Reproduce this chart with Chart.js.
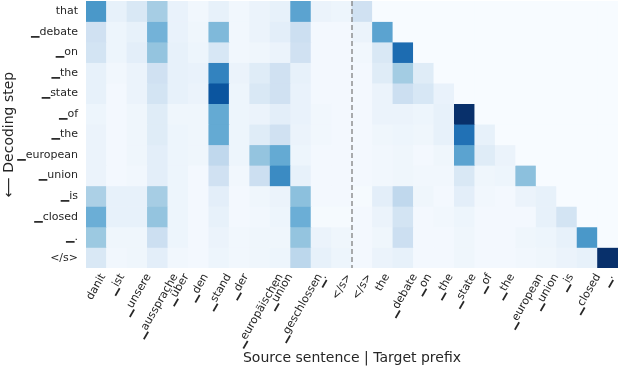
<!DOCTYPE html>
<html>
<head>
<meta charset="utf-8">
<script src="https://cdn.jsdelivr.net/npm/chart.js@4/dist/chart.umd.min.js"></script>
<style>
html, body { margin: 0; padding: 0; background: #fff; }
</style>
</head>
<body>
<canvas id="attn" width="618" height="368"></canvas>
<script>
// tokens
const rowLabels = ['that', '▁debate', '▁on', '▁the', '▁state', '▁of', '▁the', '▁european', '▁union', '▁is', '▁closed', '▁.', '</s>'];
const sourceTokens = ['danit', '▁ist', '▁unsere', '▁aussprache', '▁über', '▁den', '▁stand', '▁der', '▁europäischen', '▁union', '▁geschlossen', '▁.', '</s>'];
const targetTokens = ['</s>', 'the', '▁debate', '▁on', '▁the', '▁state', '▁of', '▁the', '▁european', '▁union', '▁is', '▁closed', '▁.'];

// attention to the source sentence, one row per decoding step
const sourceAttn = [
    [0.60, 0.08, 0.15, 0.35, 0.07, 0.03, 0.08, 0.03, 0.06, 0.08, 0.55, 0.06, 0.05],
    [0.20, 0.05, 0.08, 0.48, 0.07, 0.04, 0.45, 0.03, 0.06, 0.10, 0.22, 0.02, 0.02],
    [0.18, 0.05, 0.10, 0.40, 0.08, 0.05, 0.16, 0.03, 0.04, 0.06, 0.20, 0.02, 0.02],
    [0.08, 0.03, 0.06, 0.20, 0.08, 0.07, 0.68, 0.06, 0.12, 0.20, 0.08, 0.02, 0.02],
    [0.08, 0.02, 0.06, 0.18, 0.08, 0.06, 0.86, 0.05, 0.15, 0.20, 0.07, 0.02, 0.02],
    [0.05, 0.02, 0.04, 0.12, 0.04, 0.04, 0.52, 0.05, 0.06, 0.10, 0.07, 0.03, 0.02],
    [0.06, 0.02, 0.04, 0.12, 0.05, 0.04, 0.52, 0.05, 0.12, 0.20, 0.06, 0.03, 0.02],
    [0.06, 0.02, 0.04, 0.10, 0.05, 0.04, 0.27, 0.05, 0.40, 0.52, 0.05, 0.02, 0.02],
    [0.06, 0.02, 0.03, 0.10, 0.05, 0.02, 0.20, 0.03, 0.22, 0.65, 0.08, 0.02, 0.02],
    [0.33, 0.08, 0.08, 0.35, 0.05, 0.02, 0.10, 0.02, 0.04, 0.06, 0.42, 0.02, 0.02],
    [0.50, 0.08, 0.08, 0.40, 0.05, 0.02, 0.08, 0.02, 0.03, 0.05, 0.50, 0.01, 0.01],
    [0.38, 0.04, 0.04, 0.22, 0.05, 0.02, 0.06, 0.03, 0.04, 0.04, 0.40, 0.06, 0.04],
    [0.15, 0.03, 0.04, 0.10, 0.03, 0.02, 0.05, 0.03, 0.04, 0.05, 0.28, 0.08, 0.05],
];

// attention to the target prefix (masked part is 0)
const targetAttn = [
    [0.20, 0, 0, 0, 0, 0, 0, 0, 0, 0, 0, 0, 0],
    [0.06, 0.55, 0, 0, 0, 0, 0, 0, 0, 0, 0, 0, 0],
    [0.03, 0.15, 0.77, 0, 0, 0, 0, 0, 0, 0, 0, 0, 0],
    [0.02, 0.12, 0.36, 0.12, 0, 0, 0, 0, 0, 0, 0, 0, 0],
    [0.02, 0.06, 0.22, 0.16, 0.07, 0, 0, 0, 0, 0, 0, 0, 0],
    [0.02, 0.06, 0.06, 0.05, 0.08, 1.00, 0, 0, 0, 0, 0, 0, 0],
    [0.02, 0.04, 0.05, 0.04, 0.08, 0.75, 0.08, 0, 0, 0, 0, 0, 0],
    [0.02, 0.03, 0.04, 0.02, 0.04, 0.55, 0.12, 0.06, 0, 0, 0, 0, 0],
    [0.02, 0.03, 0.04, 0.03, 0.03, 0.15, 0.04, 0.05, 0.42, 0, 0, 0, 0],
    [0.01, 0.10, 0.27, 0.04, 0.02, 0.10, 0.03, 0.02, 0.06, 0.08, 0, 0, 0],
    [0.02, 0.06, 0.18, 0.02, 0.03, 0.05, 0.02, 0.02, 0.02, 0.08, 0.18, 0, 0],
    [0.02, 0.04, 0.22, 0.02, 0.02, 0.04, 0.02, 0.02, 0.04, 0.05, 0.08, 0.60, 0],
    [0.02, 0.06, 0.08, 0.02, 0.02, 0.04, 0.02, 0.02, 0.03, 0.04, 0.06, 0.08, 1.00],
];

const columns = sourceTokens.concat(targetTokens);

// matplotlib "Blues"
const bluesStops = ['#f7fbff', '#deebf7', '#c6dbef', '#9ecae1', '#6baed6', '#4292c6', '#2171b5', '#08519c', '#08306b'];

function hexToRgb(h) {
    return [parseInt(h.slice(1, 3), 16), parseInt(h.slice(3, 5), 16), parseInt(h.slice(5, 7), 16)];
}

function blueFor(v) {
    const t = Math.max(0, Math.min(1, v)) * (bluesStops.length - 1);
    const i = Math.min(bluesStops.length - 2, Math.floor(t));
    const f = t - i;
    const a = hexToRgb(bluesStops[i]);
    const b = hexToRgb(bluesStops[i + 1]);
    const c = a.map((x, k) => Math.round(x + (b[k] - x) * f));
    return 'rgb(' + c.join(',') + ')';
}

const datasets = rowLabels.map((label, r) => ({
    label: label,
    data: columns.map(() => [r, r + 1]),
    backgroundColor: sourceAttn[r].concat(targetAttn[r]).map(blueFor),
    borderWidth: 0,
    grouped: false,
    barPercentage: 1,
    categoryPercentage: 1,
}));

const textColor = '#262626';
const fontFamily = '"DejaVu Sans", sans-serif';

// dashed line between source and target part
const divider = {
    id: 'divider',
    afterDatasetsDraw(chart) {
        const {ctx, chartArea, scales: {x}} = chart;
        const n = sourceTokens.length;
        const px = (x.getPixelForValue(n - 1) + x.getPixelForValue(n)) / 2;
        ctx.save();
        ctx.strokeStyle = '#808080';
        ctx.lineWidth = 1.3;
        ctx.setLineDash([5, 3]);
        ctx.beginPath();
        ctx.moveTo(px, chartArea.top);
        ctx.lineTo(px, chartArea.bottom);
        ctx.stroke();
        ctx.restore();
    }
};

// rotated x labels, centred under their column (like matplotlib ha='center')
const xLabels = {
    id: 'xLabels',
    afterDraw(chart) {
        const {ctx, chartArea, scales: {x}} = chart;
        const size = 11;
        const ang = Math.PI / 3;
        ctx.save();
        ctx.font = size + 'px ' + fontFamily;
        ctx.fillStyle = textColor;
        ctx.textAlign = 'right';
        ctx.textBaseline = 'middle';
        const top = chartArea.bottom + 4;
        columns.forEach((label, i) => {
            const w = ctx.measureText(label).width;
            const tx = x.getPixelForTick(i) + w * Math.cos(ang) / 2;
            const ty = top + size * 0.5 * Math.cos(ang);
            ctx.setTransform(1, 0, 0, 1, tx, ty);
            ctx.rotate(-ang);
            ctx.fillText(label, 0, 0);
        });
        ctx.restore();
    }
};

Chart.defaults.font.family = fontFamily;
Chart.defaults.color = textColor;

new Chart(document.getElementById('attn'), {
    type: 'bar',
    data: {
        labels: columns,
        datasets: datasets,
    },
    options: {
        responsive: false,
        animation: false,
        layout: { padding: { top: 1, right: 0, left: 0, bottom: 0 } },
        plugins: {
            legend: { display: false },
            tooltip: { enabled: false },
        },
        scales: {
            x: {
                type: 'category',
                grid: { display: false, drawTicks: false },
                border: { display: false },
                ticks: { display: false },
                title: {
                    display: true,
                    text: 'Source sentence | Target prefix',
                    font: { size: 14 },
                    padding: { top: 0, bottom: 1 },
                },
                afterFit(scale) {
                    scale.height = 100;
                    scale.paddingLeft = 0;
                    scale.paddingRight = 0;
                },
            },
            y: {
                type: 'linear',
                min: 0,
                max: rowLabels.length,
                reverse: true,
                grid: { display: false, drawTicks: false },
                border: { display: false },
                afterBuildTicks(scale) {
                    scale.ticks = rowLabels.map((_, i) => ({ value: i + 0.5 }));
                },
                ticks: {
                    padding: 8,
                    font: { size: 11 },
                    callback: (value, index) => rowLabels[index],
                },
                title: {
                    display: true,
                    text: '⟵ Decoding step',
                    font: { size: 14 },
                    padding: { top: 1, bottom: 0 },
                },
                afterFit(scale) {
                    scale.width = 86;
                    scale.paddingTop = 0;
                    scale.paddingBottom = 0;
                },
            },
        },
    },
    plugins: [divider, xLabels],
});
</script>
</body>
</html>
